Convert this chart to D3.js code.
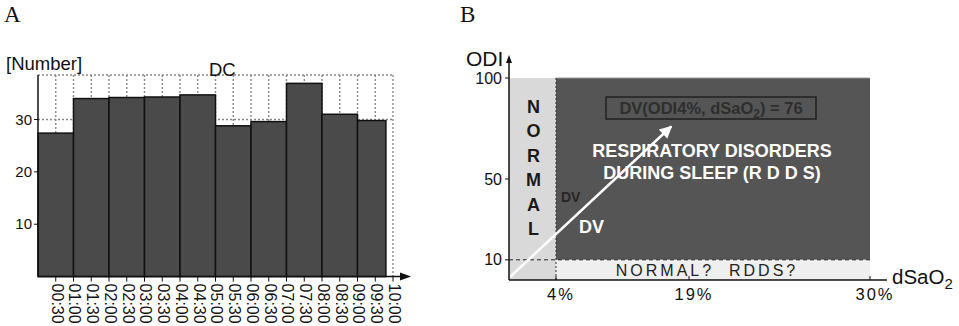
<!DOCTYPE html>
<meta charset="utf-8">
<head>
  <title>DC histogram and DV diagram</title>
</head>

<style>
body { margin: 0; background: #fff; }
text {
  font-family: "Liberation Sans", Arial, sans-serif;
  fill: #111;
}
.panel { font-family: "Liberation Serif", "Times New Roman", serif; font-size: 23px; }
.grid { stroke: #888; stroke-width: 1.4; stroke-dasharray: 2,2; fill: none; }
.bar { fill: #4a4a4a; stroke: #111; stroke-width: 1.5; }
</style>

<body>
  <svg width="959" height="326"></svg>

  <script src="https://d3js.org/d3.v7.min.js"></script>
  <script>
// ---- panel A data ----
var barStart = [0, 1, 2, 3, 4, 5, 6, 7, 8, 9];          // hours
var barEnd   = [1, 2, 3, 4, 5, 6, 7, 8, 9, 9.8];
var barValue = [27.4, 34.0, 34.2, 34.3, 34.7, 28.8, 29.6, 36.9, 31.0, 29.8];
var timeTicks = [0.5, 1, 1.5, 2, 2.5, 3, 3.5, 4, 4.5, 5, 5.5, 6, 6.5, 7, 7.5, 8, 8.5, 9, 9.5, 10];
var timeLabels = ["00:30", "01:00", "01:30", "02:00", "02:30", "03:00", "03:30", "04:00", "04:30", "05:00",
                  "05:30", "06:00", "06:30", "07:00", "07:30", "08:00", "08:30", "09:00", "09:30", "10:00"];
var countTicks = [10, 20, 30];

// ---- panel B data ----
var dsatBreaks = [0, 4, 19, 30];          // % axis, non linear
var dsatLabels = ["4%", "19%", "30%"];
var odiTicks = [10, 50, 100];
var odiLimit = 10, dsatLimit = 4, odiMax = 100, dsatMax = 30;
var dvPoint = [17, 76];                    // DV(ODI4%, dSaO2) = 76
var normalLetters = ["N", "O", "R", "M", "A", "L"];

var svg = d3.select("svg");

// ================= Panel A =================
var x = d3.scaleLinear().domain([0, 10]).range([38, 393]);
var y = d3.scaleLinear().domain([0, 38.5]).range([276.6, 75]);

svg.append("text").attr("class", "panel").attr("x", 4).attr("y", 22).text("A");

var gA = svg.append("g");

// dotted grid
gA.selectAll(".vgrid")
  .data(timeTicks)
  .enter()
  .append("line")
  .attr("class", "grid")
  .attr("x1", function(d) { return x(d); })
  .attr("x2", function(d) { return x(d); })
  .attr("y1", y(38.5))
  .attr("y2", function(d) { return d == 10 ? y(0) : y(0) - 2; });

gA.append("line").attr("class", "grid")
  .attr("x1", x(0)).attr("x2", x(10)).attr("y1", y(38.5)).attr("y2", y(38.5));
gA.append("line").attr("class", "grid")
  .attr("x1", x(0)).attr("x2", x(10)).attr("y1", y(30)).attr("y2", y(30));

// bars
gA.selectAll(".bar")
  .data(barValue)
  .enter()
  .append("rect")
  .attr("class", "bar")
  .attr("x", function(d, i) { return x(barStart[i]); })
  .attr("width", function(d, i) { return x(barEnd[i]) - x(barStart[i]); })
  .attr("y", function(d) { return y(d); })
  .attr("height", function(d) { return y(0) - y(d); });

// axes
gA.append("line").attr("x1", x(0)).attr("x2", x(0)).attr("y1", y(38.5)).attr("y2", y(0))
  .attr("stroke", "#111").attr("stroke-width", 1.5);
gA.append("line").attr("x1", x(0)).attr("x2", 402).attr("y1", y(0)).attr("y2", y(0))
  .attr("stroke", "#111").attr("stroke-width", 1.5);
gA.append("path").attr("d", "M400,272.6 L411," + y(0) + " L400,280.6 Z").attr("fill", "#111");

gA.selectAll(".ytick")
  .data(countTicks)
  .enter()
  .append("line")
  .attr("x1", x(0) - 4).attr("x2", x(0))
  .attr("y1", function(d) { return y(d); })
  .attr("y2", function(d) { return y(d); })
  .attr("stroke", "#111");

gA.selectAll(".ylab")
  .data(countTicks)
  .enter()
  .append("text")
  .attr("x", x(0) - 6)
  .attr("y", function(d) { return y(d); })
  .attr("dy", "0.35em")
  .attr("text-anchor", "end")
  .style("font-size", "15px")
  .text(function(d) { return d; });

gA.selectAll(".xtick")
  .data(timeTicks)
  .enter()
  .append("line")
  .attr("x1", function(d) { return x(d); })
  .attr("x2", function(d) { return x(d); })
  .attr("y1", y(0)).attr("y2", y(0) + 5)
  .attr("stroke", "#111");

gA.selectAll(".xlab")
  .data(timeTicks)
  .enter()
  .append("text")
  .attr("transform", function(d) { return "translate(" + (x(d) + 1.5) + "," + (y(0) + 7) + ") rotate(90)"; })
  .attr("dy", "0.35em")
  .style("font-size", "16px")
  .text(function(d, i) { return timeLabels[i]; });

svg.append("text").attr("x", 6).attr("y", 70).style("font-size", "18.5px").text("[Number]");
svg.append("text").attr("x", 209).attr("y", 76).style("font-size", "18.5px").text("DC");

// ================= Panel B =================
var bx = d3.scaleLinear().domain(dsatBreaks).range([509, 556, 689, 870]);
var by = d3.scaleLinear().domain([0, odiMax]).range([280, 78]);

svg.append("text").attr("class", "panel").attr("x", 460).attr("y", 22).text("B");

var gB = svg.append("g");

// regions
gB.append("rect").attr("x", bx(0)).attr("y", by(odiMax))
  .attr("width", bx(dsatLimit) - bx(0)).attr("height", by(0) - by(odiMax)).attr("fill", "#d9d9d9");
gB.append("rect").attr("x", bx(dsatLimit)).attr("y", by(odiMax))
  .attr("width", bx(dsatMax) - bx(dsatLimit)).attr("height", by(odiLimit) - by(odiMax)).attr("fill", "#555555");
gB.append("rect").attr("x", bx(dsatLimit)).attr("y", by(odiLimit))
  .attr("width", bx(dsatMax) - bx(dsatLimit)).attr("height", by(0) - by(odiLimit)).attr("fill", "#efefef");
gB.append("line").attr("x1", bx(dsatLimit)).attr("x2", bx(dsatMax)).attr("y1", by(odiMax)).attr("y2", by(odiMax))
  .attr("stroke", "#999").attr("stroke-width", 1);

gB.append("line").attr("x1", bx(0)).attr("x2", bx(dsatMax)).attr("y1", by(odiLimit)).attr("y2", by(odiLimit))
  .attr("stroke", "#222").attr("stroke-dasharray", "4,3");
gB.append("line").attr("x1", bx(dsatLimit)).attr("x2", bx(dsatLimit)).attr("y1", by(odiMax)).attr("y2", by(0))
  .attr("stroke", "#333").attr("stroke-dasharray", "2,2");

// NORMAL column
gB.selectAll(".nl")
  .data(normalLetters)
  .enter()
  .append("text")
  .attr("x", (bx(0) + bx(dsatLimit)) / 2 + 1)
  .attr("y", function(d, i) { return 113 + i * 24.4; })
  .attr("text-anchor", "middle")
  .style("font-size", "18px").style("font-weight", "bold").style("fill", "#1a1a1a")
  .text(function(d) { return d; });

// DV box
gB.append("rect").attr("x", 606).attr("y", 97).attr("width", 210).attr("height", 22)
  .attr("fill", "none").attr("stroke", "#1a1a1a").attr("stroke-width", 1.3);
var boxText = gB.append("text").attr("x", 711).attr("y", 114).attr("text-anchor", "middle")
  .style("font-size", "16.5px").style("font-weight", "bold").style("fill", "#2e2e2e");
boxText.append("tspan").text("DV(ODI4%, dSaO");
boxText.append("tspan").attr("dy", 4).style("font-size", "12px").text("2");
boxText.append("tspan").attr("dy", -4).text(") = " + dvPoint[1]);

// RDDS label
gB.append("text").attr("x", 712).attr("y", 157).attr("text-anchor", "middle")
  .style("font-size", "18px").style("font-weight", "bold").style("fill", "#fff")
  .text("RESPIRATORY DISORDERS");
gB.append("text").attr("x", 712).attr("y", 179).attr("text-anchor", "middle")
  .style("font-size", "18px").style("font-weight", "bold").style("fill", "#fff")
  .text("DURING SLEEP (R D D S)");

gB.append("text").attr("x", 561).attr("y", 202)
  .style("font-size", "14px").style("font-weight", "bold").style("fill", "#262626").text("DV");
gB.append("text").attr("x", 579).attr("y", 233)
  .style("font-size", "18px").style("font-weight", "bold").style("fill", "#fff").text("DV");

gB.append("text").attr("x", 707).attr("y", 276).attr("text-anchor", "middle")
  .style("font-size", "16px").style("letter-spacing", "3px").style("white-space", "pre").style("fill", "#222")
  .text("NORMAL?  RDDS?");

// DV arrow
svg.append("defs").append("marker")
  .attr("id", "wa").attr("viewBox", "0 0 10 10").attr("refX", 9).attr("refY", 5)
  .attr("markerWidth", 6).attr("markerHeight", 5).attr("markerUnits", "strokeWidth").attr("orient", "auto")
  .append("path").attr("d", "M0,0 L10,5 L0,10 Z").attr("fill", "#fff");
gB.append("line")
  .attr("x1", bx(0) + 1).attr("y1", by(1.5))
  .attr("x2", bx(dvPoint[0])).attr("y2", by(dvPoint[1]))
  .attr("stroke", "#fff").attr("stroke-width", 2.5).attr("marker-end", "url(#wa)");

// axes B
gB.append("line").attr("x1", bx(0)).attr("x2", bx(0)).attr("y1", by(0)).attr("y2", 62)
  .attr("stroke", "#111").attr("stroke-width", 1.5);
gB.append("path").attr("d", "M506,63 L509,55 L512,63 Z").attr("fill", "#111");
gB.append("line").attr("x1", bx(0)).attr("x2", 887).attr("y1", by(0)).attr("y2", by(0))
  .attr("stroke", "#111").attr("stroke-width", 1.5);

gB.selectAll(".bty")
  .data(odiTicks)
  .enter()
  .append("line")
  .attr("x1", bx(0) - 4).attr("x2", bx(0))
  .attr("y1", function(d) { return by(d); })
  .attr("y2", function(d) { return by(d); })
  .attr("stroke", "#111");
gB.selectAll(".byl")
  .data(odiTicks)
  .enter()
  .append("text")
  .attr("x", 502)
  .attr("y", function(d) { return by(d); })
  .attr("dy", "0.35em")
  .attr("text-anchor", "end")
  .style("font-size", "16px")
  .text(function(d) { return d; });

gB.selectAll(".btx")
  .data(dsatBreaks.slice(1))
  .enter()
  .append("line")
  .attr("x1", function(d) { return bx(d); })
  .attr("x2", function(d) { return bx(d); })
  .attr("y1", by(0) - 4).attr("y2", by(0))
  .attr("stroke", "#111");
gB.selectAll(".bxl")
  .data(dsatBreaks.slice(1))
  .enter()
  .append("text")
  .attr("x", function(d) { return bx(d) + 5; })
  .attr("y", 300)
  .attr("text-anchor", "middle")
  .style("font-size", "16.5px").style("letter-spacing", "2px")
  .text(function(d, i) { return dsatLabels[i]; });

svg.append("text").attr("x", 466).attr("y", 66).style("font-size", "21px").text("ODI");
var dsatTitle = svg.append("text").attr("x", 892).attr("y", 284).style("font-size", "20.5px");
dsatTitle.append("tspan").text("dSaO");
dsatTitle.append("tspan").attr("dy", 5).style("font-size", "15px").text("2");

  </script>
</body>
</html>
